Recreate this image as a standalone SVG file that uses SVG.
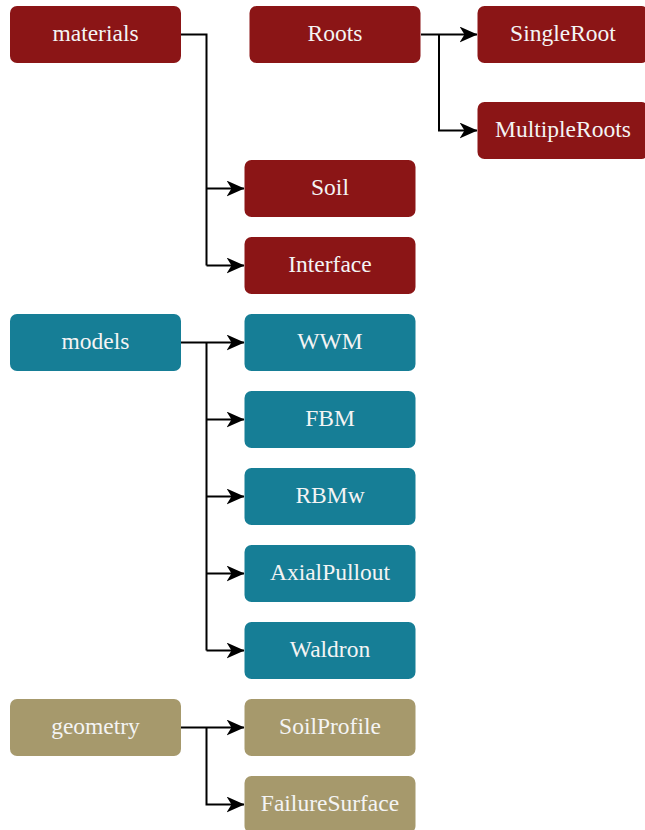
<svg xmlns="http://www.w3.org/2000/svg" width="645" height="830" viewBox="0 0 645 830">
<style>
.r{fill:#8b1516}.t{fill:#167e96}.k{fill:#a6996c}
text{font-family:"Liberation Serif","Times New Roman",serif;font-size:23.5px;fill:#f4f4f4;text-anchor:middle;dominant-baseline:central}
.c path{fill:none;stroke:#000;stroke-width:2}
</style>
<defs>
<marker id="a" viewBox="0 0 18 16" refX="17.5" refY="8" markerWidth="18" markerHeight="16" markerUnits="userSpaceOnUse" orient="auto">
<path d="M0,0 L18,8 L0,16 L5,8 Z" fill="#000"/>
</marker>
</defs>
<g class="c">
<path d="M181,34.5 H206.5 V265.5"/>
<path d="M206.5,188.5 H244" marker-end="url(#a)"/>
<path d="M206.5,265.5 H244" marker-end="url(#a)"/>
<path d="M421,34.5 H477" marker-end="url(#a)"/>
<path d="M439,34.5 V130.5 H477" marker-end="url(#a)"/>
<path d="M181,342.5 H244" marker-end="url(#a)"/>
<path d="M206.5,342.5 V650.5"/>
<path d="M206.5,419.5 H244" marker-end="url(#a)"/>
<path d="M206.5,496.5 H244" marker-end="url(#a)"/>
<path d="M206.5,573.5 H244" marker-end="url(#a)"/>
<path d="M206.5,650.5 H244" marker-end="url(#a)"/>
<path d="M181,727.5 H244" marker-end="url(#a)"/>
<path d="M206.5,727.5 V804.5 H244" marker-end="url(#a)"/>
</g>
<g id="materials"><rect class="r" x="10" y="6" width="171" height="57" rx="7"/><text x="95.5" y="33">materials</text></g>
<g id="Roots"><rect class="r" x="249.5" y="6" width="171" height="57" rx="7"/><text x="335" y="33">Roots</text></g>
<g id="SingleRoot"><rect class="r" x="477.5" y="6" width="171" height="57" rx="7"/><text x="563" y="33">SingleRoot</text></g>
<g id="MultipleRoots"><rect class="r" x="477.5" y="102" width="171" height="57" rx="7"/><text x="563" y="129">MultipleRoots</text></g>
<g id="Soil"><rect class="r" x="244.5" y="160" width="171" height="57" rx="7"/><text x="330" y="187">Soil</text></g>
<g id="Interface"><rect class="r" x="244.5" y="237" width="171" height="57" rx="7"/><text x="330" y="264">Interface</text></g>
<g id="models"><rect class="t" x="10" y="314" width="171" height="57" rx="7"/><text x="95.5" y="341">models</text></g>
<g id="WWM"><rect class="t" x="244.5" y="314" width="171" height="57" rx="7"/><text x="330" y="341">WWM</text></g>
<g id="FBM"><rect class="t" x="244.5" y="391" width="171" height="57" rx="7"/><text x="330" y="418">FBM</text></g>
<g id="RBMw"><rect class="t" x="244.5" y="468" width="171" height="57" rx="7"/><text x="330" y="495">RBMw</text></g>
<g id="AxialPullout"><rect class="t" x="244.5" y="545" width="171" height="57" rx="7"/><text x="330" y="572">AxialPullout</text></g>
<g id="Waldron"><rect class="t" x="244.5" y="622" width="171" height="57" rx="7"/><text x="330" y="649">Waldron</text></g>
<g id="geometry"><rect class="k" x="10" y="699" width="171" height="57" rx="7"/><text x="95.5" y="726">geometry</text></g>
<g id="SoilProfile"><rect class="k" x="244.5" y="699" width="171" height="57" rx="7"/><text x="330" y="726">SoilProfile</text></g>
<g id="FailureSurface"><rect class="k" x="244.5" y="776" width="171" height="57" rx="7"/><text x="330" y="803">FailureSurface</text></g>
</svg>
